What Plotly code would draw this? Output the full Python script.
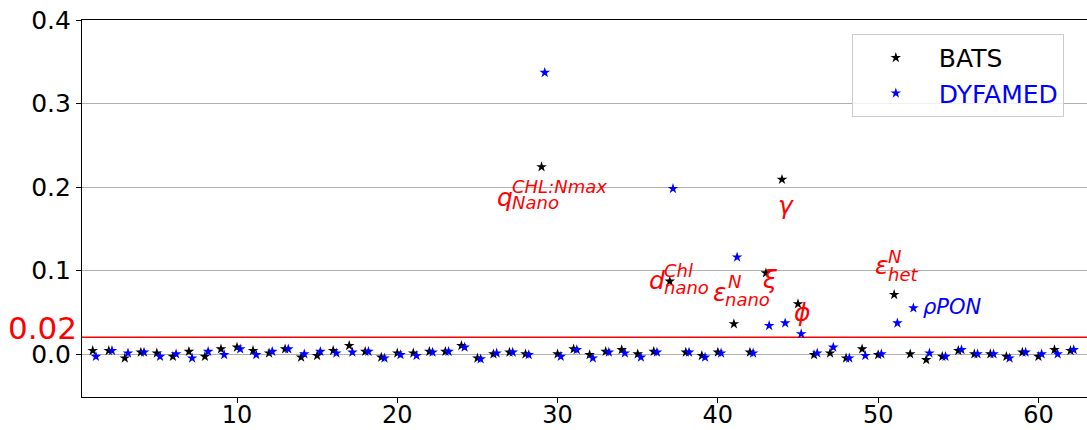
import plotly.graph_objects as go

# ---------------- data ----------------
param_index = list(range(1, 63))

bats = [0.004, 0.004, -0.005, 0.002, 0.001, -0.003, 0.003, -0.003, 0.006, 0.008,
        0.004, 0.001, 0.006, -0.004, -0.002, 0.004, 0.010, 0.003, -0.004, 0.001,
        0.001, 0.003, 0.003, 0.010, -0.005, 0.000, 0.002, 0.000, 0.224, 0.000,
        0.006, -0.001, 0.003, 0.005, 0.000, 0.003, 0.087, 0.002, -0.002, 0.002,
        0.036, 0.002, 0.097, 0.209, 0.060, -0.001, 0.001, -0.005, 0.006, -0.001,
        0.071, 0.000, -0.007, -0.003, 0.004, 0.000, 0.000, -0.003, 0.002, -0.003,
        0.005, 0.004]

dyfamed = [-0.003, 0.004, 0.001, 0.002, -0.003, 0.000, -0.005, 0.003, -0.001, 0.006,
           -0.001, 0.003, 0.006, 0.000, 0.003, 0.001, 0.002, 0.003, -0.005, -0.001,
           -0.002, 0.002, 0.003, 0.008, -0.006, 0.001, 0.002, -0.001, 0.337, -0.003,
           0.005, -0.005, 0.002, 0.001, -0.004, 0.002, 0.198, 0.002, -0.004, 0.001,
           0.116, 0.001, 0.034, 0.037, 0.024, 0.001, 0.008, -0.005, -0.002, 0.000,
           0.037, 0.055, 0.001, -0.003, 0.005, 0.000, 0.000, -0.005, 0.002, 0.000,
           0.000, 0.005]

dyfamed_offset = 0.2
threshold = 0.02

x_ticks = [10, 20, 30, 40, 50, 60]
y_ticks = [0.0, 0.1, 0.2, 0.3, 0.4]
y_ticktext = ["0.0", "0.1", "0.2", "0.3", "0.4"]

# parameter labels: (text, x, y, size, color)
labels = [
    ("<i>q</i>", 26.1, 0.188, 25, "red"),
    ("<i>CHL:Nmax</i>", 27.05, 0.201, 18, "red"),
    ("<i>Nano</i>", 27.05, 0.181, 18, "red"),
    ("<i>d</i>", 35.55, 0.0884, 25, "red"),
    ("<i>Chl</i>", 36.5, 0.1, 18, "red"),
    ("<i>nano</i>", 36.5, 0.080, 18, "red"),
    ("<i>ε</i>", 39.6, 0.0738, 25, "red"),
    ("<i>N</i>", 40.5, 0.087, 18, "red"),
    ("<i>nano</i>", 40.35, 0.065, 18, "red"),
    ("<i>ξ</i>", 42.65, 0.089, 25, "red"),
    ("<i>γ</i>", 43.65, 0.1776, 25, "red"),
    ("<i>ϕ</i>", 44.6, 0.0495, 25, "red"),
    ("<i>ε</i>", 49.7, 0.106, 25, "red"),
    ("<i>N</i>", 50.5, 0.117, 18, "red"),
    ("<i>het</i>", 50.5, 0.0956, 18, "red"),
    ("<i>ρPON</i>", 52.65, 0.0566, 21, "blue"),
]

FONT = "DejaVu Sans"

fig = go.Figure()
fig.add_trace(go.Scatter(
    x=param_index, y=bats, mode="markers", name="BATS",
    marker=dict(symbol="star", size=8, color="black", line=dict(width=0)),
))
fig.add_trace(go.Scatter(
    x=[i + dyfamed_offset for i in param_index], y=dyfamed, mode="markers",
    name='<span style="color:blue">DYFAMED</span>',
    marker=dict(symbol="star", size=8, color="blue", line=dict(width=0)),
))

fig.add_shape(type="line", xref="paper", x0=0, x1=1, yref="y", y0=threshold, y1=threshold,
              line=dict(color="red", width=1.5), layer="below")

annotations = []
for text, x, y, size, color in labels:
    annotations.append(dict(text=text, x=x, y=y, xref="x", yref="y",
                            xanchor="left", yanchor="middle", showarrow=False,
                            font=dict(family=FONT, size=size, color=color)))
annotations.append(dict(text="0.02", x=0, y=threshold, xref="paper", yref="y",
                        xanchor="right", yanchor="middle", xshift=-3, yshift=9,
                        showarrow=False, font=dict(family=FONT, size=31, color="red")))

fig.update_layout(
    width=1087, height=430,
    margin=dict(l=82, r=0, t=20, b=33, autoexpand=False),
    paper_bgcolor="white", plot_bgcolor="white",
    font=dict(family=FONT, size=25, color="black"),
    showlegend=True,
    legend=dict(x=0.766, y=0.963, xanchor="left", yanchor="top",
                bgcolor="rgba(255,255,255,0.8)", bordercolor="#cccccc", borderwidth=1,
                font=dict(family=FONT, size=25, color="black"), itemwidth=76),
    annotations=annotations,
)
fig.update_xaxes(range=[0.33, 63.03], tickvals=x_ticks, ticks="outside", ticklen=5,
                 tickcolor="black", showline=True, linecolor="black", linewidth=1.2,
                 mirror=True, showgrid=False, zeroline=False, automargin=False,
                 ticklabelstandoff=-9,
                 tickfont=dict(family=FONT, size=24, color="black"))
fig.update_yaxes(range=[-0.0515, 0.4], tickvals=y_ticks, ticktext=y_ticktext,
                 ticks="outside", ticklen=5, tickcolor="black", showline=True,
                 linecolor="black", linewidth=1.2, showgrid=True, gridcolor="#b0b0b0",
                 gridwidth=1, zeroline=False, automargin=False,
                 tickfont=dict(family=FONT, size=25, color="black"))

fig.write_html("out.html")
